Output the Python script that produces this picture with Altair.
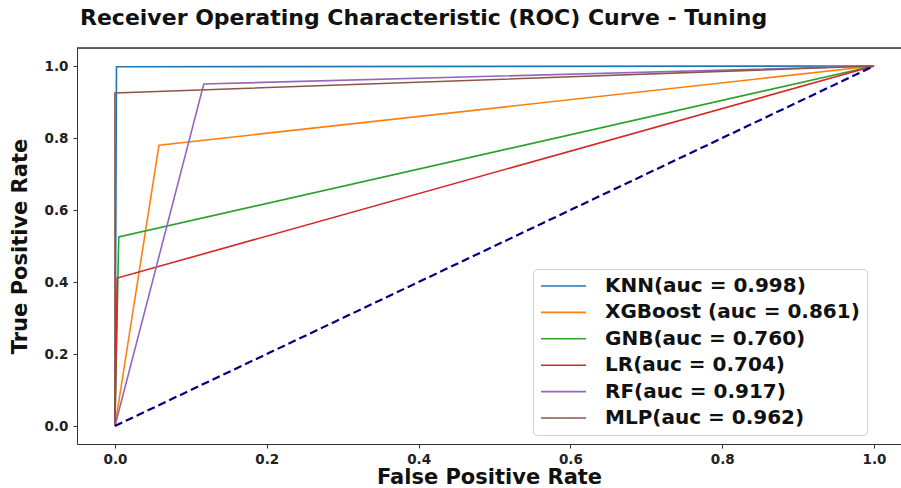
import altair as alt
import pandas as pd

# ROC points per model: start, single operating point, end
labels = [
    "KNN(auc = 0.998)",
    "XGBoost (auc = 0.861)",
    "GNB(auc = 0.760)",
    "LR(auc = 0.704)",
    "RF(auc = 0.917)",
    "MLP(auc = 0.962)",
]
fpr = [
    [0.0, 0.002, 1.0],
    [0.0, 0.058, 1.0],
    [0.0, 0.005, 1.0],
    [0.0, 0.003, 1.0],
    [0.0, 0.117, 1.0],
    [0.0, 0.0, 1.0],
]
tpr = [
    [0.0, 0.998, 1.0],
    [0.0, 0.780, 1.0],
    [0.0, 0.525, 1.0],
    [0.0, 0.411, 1.0],
    [0.0, 0.950, 1.0],
    [0.0, 0.925, 1.0],
]
colors = ["#1f77b4", "#ff7f0e", "#2ca02c", "#d62728", "#9467bd", "#8c564b"]
ticks = [0.0, 0.2, 0.4, 0.6, 0.8, 1.0]
chance_x = [0.0, 1.0]
chance_y = [0.0, 1.0]

rows = []
for lab, xs, ys in zip(labels, fpr, tpr):
    for i, (fx, ty) in enumerate(zip(xs, ys)):
        rows.append({"model": lab, "fpr": fx, "tpr": ty, "step": i})
df = pd.DataFrame(rows)
diag = pd.DataFrame({"fpr": chance_x, "tpr": chance_y, "step": [0, 1]})

FONT = "DejaVu Sans"
xs = alt.Scale(domain=[-0.05, 1.0355], nice=False, zero=False)
ys = alt.Scale(domain=[-0.05, 1.05], nice=False, zero=False)

x_axis = alt.Axis(
    values=ticks, format=".1f", grid=False, title="False Positive Rate",
    labelFont=FONT, labelFontWeight="bold", labelFontSize=13.5, labelColor="#222",
    titleFont=FONT, titleFontWeight="bold", titleFontSize=21, titleColor="#111",
    titlePadding=1, tickSize=4, labelPadding=4, domainColor="#333", tickColor="#333",
)
y_axis = alt.Axis(
    values=ticks, format=".1f", grid=False, title="True Positive Rate",
    labelFont=FONT, labelFontWeight="bold", labelFontSize=13.5, labelColor="#222",
    titleFont=FONT, titleFontWeight="bold", titleFontSize=21, titleColor="#111",
    titlePadding=14, tickSize=4, labelPadding=5, domainColor="#333", tickColor="#333",
)

# a flat line glyph starting at the entry's left edge, used as the legend swatch
swatch = "M-1,0H4"

curves = alt.Chart(df).mark_line(strokeWidth=1.6).encode(
    x=alt.X("fpr:Q", scale=xs, axis=x_axis),
    y=alt.Y("tpr:Q", scale=ys, axis=y_axis),
    order="step:Q",
    color=alt.Color(
        "model:N",
        scale=alt.Scale(domain=labels, range=colors),
        sort=labels,
        legend=alt.Legend(
            title=None, orient="none", legendX=456, legendY=221,
            labelFont=FONT, labelFontWeight="bold", labelFontSize=20, labelColor="#111",
            symbolType=swatch, symbolSize=324, symbolStrokeWidth=1.6,
            labelOffset=45, rowPadding=6.4, padding=7,
            fillColor="rgba(255,255,255,0.85)", strokeColor="#d0d0d0", cornerRadius=4,
            labelLimit=400,
        ),
    ),
)

chance = alt.Chart(diag).mark_line(
    color="navy", strokeWidth=2.2, strokeDash=[8, 4]
).encode(x=alt.X("fpr:Q", scale=xs), y=alt.Y("tpr:Q", scale=ys), order="step:Q")

top_border = alt.Chart(diag).mark_rule(color="#333", strokeWidth=1).encode(
    y=alt.value(0)
)

chart = alt.layer(curves, chance, top_border).properties(
    width=824,
    height=396,
    title=alt.Title(
        "Receiver Operating Characteristic (ROC) Curve - Tuning",
        anchor="start", frame="group", font=FONT, fontWeight="bold", fontSize=22,
        color="#111", offset=18, dx=3,
    ),
    autosize=alt.AutoSizeParams(type="none"),
    padding={"left": 77, "top": 48, "right": 0, "bottom": 44},
).configure_view(stroke=None).configure(background="white")

chart.save("out.html", embed_options={"renderer": "svg", "actions": False})
